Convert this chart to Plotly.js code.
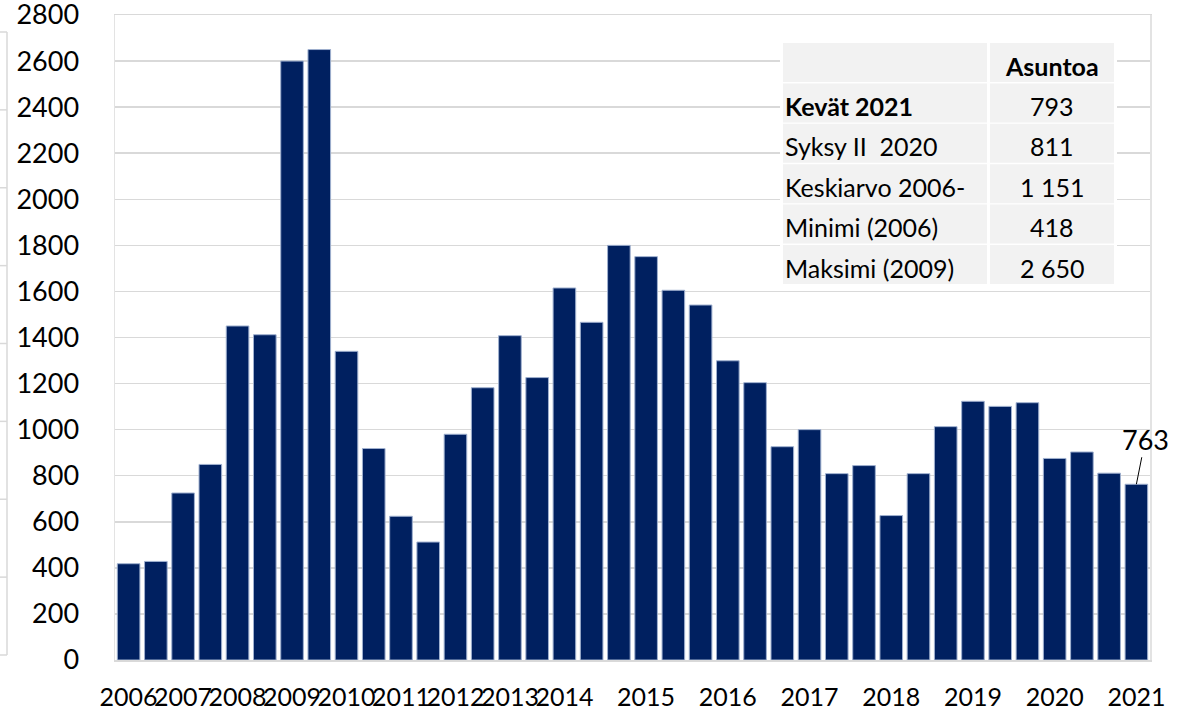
<!DOCTYPE html>
<html>
<head>
<meta charset="utf-8">
<script src="https://cdn.plot.ly/plotly-3.0.1.min.js"></script>
<style>
  html, body { margin: 0; padding: 0; background: #ffffff; }
  #chart { width: 1189px; height: 712px; }
</style>
</head>
<body>
<div id="chart"></div>
<script>
// ---- Data ----
const periods = [
  "2006 Kevät","2006 Syksy","2007 Kevät","2007 Syksy","2008 Kevät","2008 Syksy",
  "2009 Kevät","2009 Syksy","2010 Kevät","2010 Syksy","2011 Kevät","2011 Syksy",
  "2012 Kevät","2012 Syksy","2013 Kevät","2013 Syksy",
  "2014 Kevät","2014 Syksy I","2014 Syksy II","2015 Kevät","2015 Syksy I","2015 Syksy II",
  "2016 Kevät","2016 Syksy I","2016 Syksy II","2017 Kevät","2017 Syksy I","2017 Syksy II",
  "2018 Kevät","2018 Syksy I","2018 Syksy II","2019 Kevät","2019 Syksy I","2019 Syksy II",
  "2020 Kevät","2020 Syksy I","2020 Syksy II","2021 Kevät"
];
const dwellings = [
  418, 428, 725, 849, 1450, 1412,
  2600, 2650, 1340, 918, 624, 512,
  980, 1182, 1408, 1226,
  1615, 1466, 1800, 1751, 1605, 1541,
  1299, 1204, 926, 1000, 809, 844,
  627, 809, 1013, 1123, 1101, 1117,
  875, 903, 811, 763
];
const tickPeriods = [
  "2006 Kevät","2007 Kevät","2008 Kevät","2009 Kevät","2010 Kevät","2011 Kevät",
  "2012 Kevät","2013 Kevät","2014 Kevät","2015 Kevät","2016 Kevät","2017 Kevät",
  "2018 Kevät","2019 Kevät","2020 Kevät","2021 Kevät"
];
const tickYears = ["2006","2007","2008","2009","2010","2011","2012","2013",
                   "2014","2015","2016","2017","2018","2019","2020","2021"];
const yTicks = [0,200,400,600,800,1000,1200,1400,1600,1800,2000,2200,2400,2600,2800];

const tableHeader = ["", "Asuntoa"];
const tableLabels = ["Kevät 2021", "Syksy II\u00a0 2020", "Keskiarvo 2006-", "Minimi (2006)", "Maksimi (2009)"];
const tableValues = ["793", "811", "1 151", "418", "2 650"];
const tableBold = [true, false, false, false, false];

// ---- Layout helpers (pixel -> paper) ----
const L = 115, R = 1150, T = 15, B = 660;
const px = x => (x - L) / (R - L);
const py = y => (B - y) / (B - T);
const FONT = "Lato, 'Open Sans', 'Noto Sans', sans-serif";

const shapes = [];
const annotations = [];

// table
const col1 = [783, 987], col2 = [990, 1114];
const rowTop0 = 43, rowPitch = 40.4, rowH = 39;
shapes.push({type:"rect", xref:"paper", yref:"paper", x0:px(780), x1:px(1117), y0:py(288), y1:py(40),
  fillcolor:"#ffffff", line:{width:0}, layer:"above"});
const nRows = tableLabels.length + 1;
for (let r = 0; r < nRows; r++) {
  const top = rowTop0 + r * rowPitch, bot = top + rowH;
  [col1, col2].forEach(c => {
    shapes.push({type:"rect", xref:"paper", yref:"paper", x0:px(c[0]), x1:px(c[1]), y0:py(bot), y1:py(top),
      fillcolor:"#f2f2f2", line:{width:0}, layer:"above"});
  });
  const cy = py(top + rowH / 2 + 3);
  let label, value, bold;
  if (r === 0) { label = tableHeader[0]; value = tableHeader[1]; bold = true; }
  else { label = tableLabels[r-1]; value = tableValues[r-1]; bold = tableBold[r-1]; }
  if (label) annotations.push({xref:"paper", yref:"paper", x:px(col1[0]), y:cy, xanchor:"left", yanchor:"middle",
    text: bold ? "<b>" + label + "</b>" : label, showarrow:false, font:{family:FONT, size:25, color:"#000"}});
  annotations.push({xref:"paper", yref:"paper", x:px((col2[0]+col2[1])/2), y:cy, xanchor:"center", yanchor:"middle",
    text: (r === 0) ? "<b>" + value + "</b>" : value, showarrow:false, font:{family:FONT, size:25, color:"#000"}});
}

// cropped neighbouring chart edge on the far left
shapes.push({type:"line", xref:"paper", yref:"paper", x0:px(7), x1:px(7), y0:py(655), y1:py(32),
  line:{color:"#d9d9d9", width:1.5}});
for (let i = 0; i < 9; i++) {
  const yy = 32 + i * (655 - 32) / 8;
  shapes.push({type:"line", xref:"paper", yref:"paper", x0:px(0), x1:px(7), y0:py(yy), y1:py(yy),
    line:{color:"#d9d9d9", width:1.5}});
}

// last value label
annotations.push({x: periods[periods.length-1], y: dwellings[dwellings.length-1], xref:"x", yref:"y",
  text: String(dwellings[dwellings.length-1]), showarrow:true, arrowhead:0, arrowwidth:1, arrowcolor:"#000",
  ax: 9, ay: -45, standoff: 0, font:{family:FONT, size:27, color:"#000"}});

const trace = {
  type: "bar",
  x: periods,
  y: dwellings,
  marker: { color: "#002060", line: { color: "#9fb0cf", width: 1 } },
  hoverinfo: "x+y"
};

const layout = {
  width: 1189, height: 712,
  margin: { l: 115, r: 39, t: 15, b: 52, pad: 0 },
  paper_bgcolor: "#ffffff", plot_bgcolor: "#ffffff",
  bargap: 0.17,
  showlegend: false,
  font: { family: FONT, color: "#000" },
  xaxis: {
    type: "category",
    range: [-0.5, periods.length - 0.5],
    autorange: false,
    tickmode: "array", tickvals: tickPeriods, ticktext: tickYears,
    tickangle: 0,
    ticks: "", showgrid: false,
    showline: true, linecolor: "#d9d9d9", linewidth: 1.5, mirror: true,
    tickfont: { family: FONT, size: 25, color: "#000" },
    ticklabelstandoff: 14,
    ticklabeloverflow: "allow",
    fixedrange: true
  },
  yaxis: {
    range: [0, 2800],
    autorange: false,
    tickmode: "array", tickvals: yTicks,
    ticks: "",
    showgrid: true, gridcolor: "#d9d9d9", gridwidth: 1.5,
    zeroline: false,
    showline: true, linecolor: "#e3e3e3", linewidth: 1.5, mirror: true,
    tickfont: { family: FONT, size: 27, color: "#000" },
    ticklabelstandoff: 29,
    ticklabeloverflow: "allow",
    fixedrange: true
  },
  shapes: shapes,
  annotations: annotations
};

Plotly.newPlot("chart", [trace], layout, { displayModeBar: false, staticPlot: true });
</script>
</body>
</html>
